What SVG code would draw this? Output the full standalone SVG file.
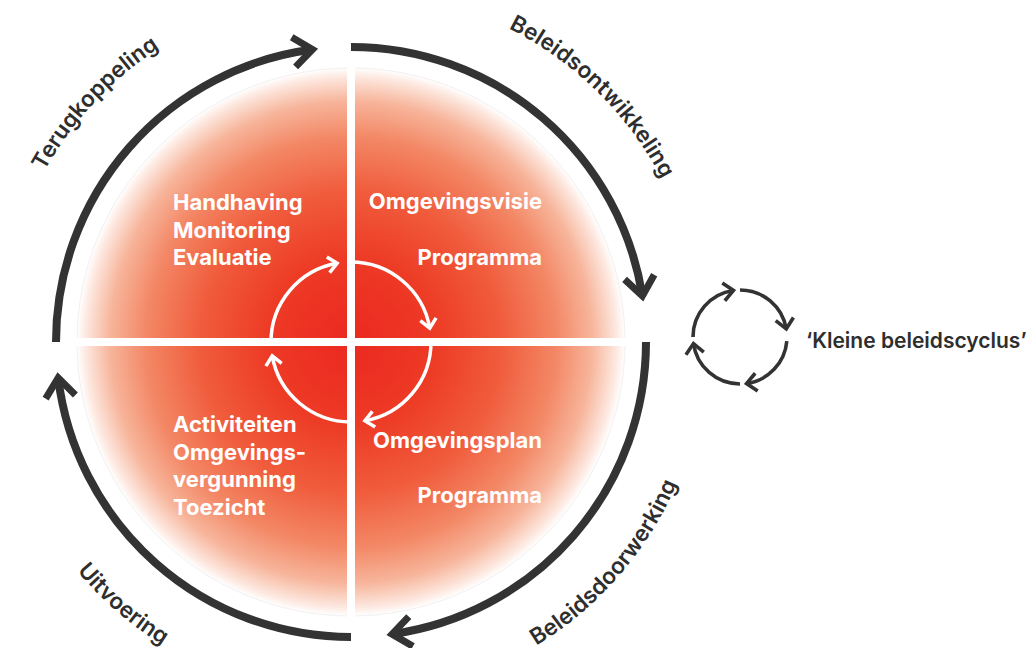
<svg xmlns="http://www.w3.org/2000/svg" width="1033" height="648" viewBox="0 0 1033 648">
<style>
.arc{fill:none;stroke:#333333;stroke-width:8;stroke-linecap:butt}
.inarc{fill:none;stroke:#ffffff;stroke-width:3.5}
.ico{fill:none;stroke:#333333;stroke-width:3.6}
.lbl{font-family:Inter,"Liberation Sans",sans-serif;font-weight:600;font-size:22.5px;fill:#2e2e2e}
.leg{font-family:Inter,"Liberation Sans",sans-serif;font-weight:600;font-size:21px;fill:#2e2e2e}
.wt{font-family:Inter,"Liberation Sans",sans-serif;font-weight:700;font-size:22px;fill:#ffffff}
.cross{stroke:#ffffff;stroke-width:8}
</style>
<defs>
<radialGradient id="g" gradientUnits="userSpaceOnUse" cx="351" cy="342" r="274">
<stop offset="0" stop-color="#ec2820"/>
<stop offset="0.3" stop-color="#ed3a25"/>
<stop offset="0.55" stop-color="#f05c3c"/>
<stop offset="0.75" stop-color="#f38866"/>
<stop offset="0.88" stop-color="#f7b59b"/>
<stop offset="0.97" stop-color="#fde9e1"/>
<stop offset="1" stop-color="#ffffff"/>
</radialGradient>
<marker id="ah" markerUnits="userSpaceOnUse" orient="auto" markerWidth="60" markerHeight="60" viewBox="-30 -30 60 60" refX="0" refY="0" overflow="visible">
<path d="M -19 -15 L 0 0 L -19 15" fill="none" stroke="#333333" stroke-width="7" stroke-linejoin="miter"/>
</marker>
<marker id="ahw" markerUnits="userSpaceOnUse" orient="auto" markerWidth="30" markerHeight="30" viewBox="-15 -15 30 30" refX="0" refY="0" overflow="visible">
<path d="M -9 -8 L 0 0 L -9 8" fill="none" stroke="#ffffff" stroke-width="3.5"/>
</marker>
<marker id="ahs" markerUnits="userSpaceOnUse" orient="auto" markerWidth="30" markerHeight="30" viewBox="-15 -15 30 30" refX="0" refY="0" overflow="visible">
<path d="M -10 -9 L 0 0 L -10 9" fill="none" stroke="#333333" stroke-width="3.6"/>
</marker>
<path id="tp1" d="M 0.48 323.79 A 351 351 0 0 1 308.59 -6.41"/>
<path id="tp2" d="M 378.30 -7.93 A 351 351 0 0 1 700.40 308.64"/>
<path id="tp3" d="M 406.38 693.64 A 355 355 0 0 0 705.95 348.18"/>
<path id="tp4" d="M -1.62 397.69 A 357 357 0 0 0 344.79 698.95"/>
</defs>

<g id="disc">
<circle cx="351" cy="342" r="274" fill="url(#g)" stroke="#ececec" stroke-width="0.8"/>
<line class="cross" x1="351" y1="50" x2="351" y2="634"/>
<line class="cross" x1="58" y1="342" x2="644" y2="342"/>
</g>

<g id="connectors">
<path class="arc" d="M 351 47 A 295 295 0 0 1 642.37 295.85" marker-end="url(#ah)"/>
<path class="arc" d="M 646 342 A 295 295 0 0 1 392.06 634.13" marker-end="url(#ah)"/>
<path class="arc" d="M 351 637 A 295 295 0 0 1 58.20 377.95" marker-end="url(#ah)"/>
<path class="arc" d="M 56 342 A 295 295 0 0 1 312.49 49.53" marker-end="url(#ah)"/>
<path class="inarc" d="M 351 262 A 80 80 0 0 1 429.78 328.11" marker-end="url(#ahw)"/>
<path class="inarc" d="M 431 342 A 80 80 0 0 1 364.89 420.78" marker-end="url(#ahw)"/>
<path class="inarc" d="M 351 422 A 80 80 0 0 1 272.22 355.89" marker-end="url(#ahw)"/>
<path class="inarc" d="M 271 342 A 80 80 0 0 1 337.11 263.22" marker-end="url(#ahw)"/>
</g>

<g id="label-terugkoppeling"><text class="lbl"><textPath href="#tp1" startOffset="50%" text-anchor="middle">Terugkoppeling</textPath></text></g>
<g id="label-beleidsontwikkeling"><text class="lbl"><textPath href="#tp2" startOffset="50%" text-anchor="middle">Beleidsontwikkeling</textPath></text></g>
<g id="label-beleidsdoorwerking"><text class="lbl"><textPath href="#tp3" startOffset="50%" text-anchor="middle">Beleidsdoorwerking</textPath></text></g>
<g id="label-uitvoering"><text class="lbl"><textPath href="#tp4" startOffset="50%" text-anchor="middle">Uitvoering</textPath></text></g>

<g id="node-tl">
<text class="wt" x="173" y="210">Handhaving</text>
<text class="wt" x="173" y="238">Monitoring</text>
<text class="wt" x="173" y="265">Evaluatie</text>
</g>
<g id="node-tr">
<text class="wt" x="542" y="209" text-anchor="end">Omgevingsvisie</text>
<text class="wt" x="542" y="265" text-anchor="end">Programma</text>
</g>
<g id="node-br">
<text class="wt" x="542" y="448" text-anchor="end">Omgevingsplan</text>
<text class="wt" x="542" y="503" text-anchor="end">Programma</text>
</g>
<g id="node-bl">
<text class="wt" x="173" y="432">Activiteiten</text>
<text class="wt" x="173" y="460">Omgevings-</text>
<text class="wt" x="173" y="487">vergunning</text>
<text class="wt" x="173" y="515">Toezicht</text>
</g>

<g id="legend">
<path class="ico" d="M 740 290 A 47 47 0 0 1 786.29 328.84" marker-end="url(#ahs)"/>
<path class="ico" d="M 786.82 341.10 A 47 47 0 0 1 746.54 383.54" marker-end="url(#ahs)"/>
<path class="ico" d="M 740 384 A 47 47 0 0 1 693.46 343.54" marker-end="url(#ahs)"/>
<path class="ico" d="M 693 337 A 47 47 0 0 1 733.46 290.46" marker-end="url(#ahs)"/>
<text class="leg" x="806" y="348">‘Kleine beleidscyclus’</text>
</g>
</svg>
